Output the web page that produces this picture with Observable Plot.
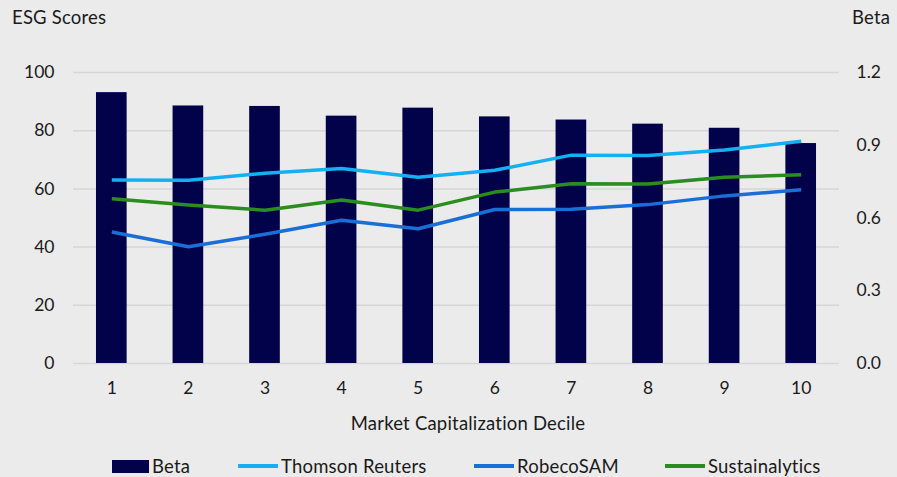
<!DOCTYPE html>
<html>
<head>
<meta charset="utf-8">
<script src="https://cdn.jsdelivr.net/npm/d3@7"></script>
<script src="https://cdn.jsdelivr.net/npm/@observablehq/plot@0.6"></script>
<style>
  html, body { margin: 0; padding: 0; background: #ebebeb; }
  #wrap { position: relative; width: 897px; height: 477px; background: #ebebeb; font-family: Lato, "Open Sans", sans-serif; color: #1a1a1a; overflow: hidden; }
  .lbl { position: absolute; font-size: 18.5px; white-space: nowrap; line-height: 1; letter-spacing: 0.2px; }
  .leg { position: absolute; top: 457px; font-size: 18.5px; line-height: 18px; display: flex; align-items: center; white-space: nowrap; letter-spacing: 0.2px; }
  .sw { display: inline-block; margin-right: 3px; }
</style>
</head>
<body>
<div id="wrap">
  <div id="chart"></div>
  <div class="lbl" style="left:12px; top:8px;">ESG Scores</div>
  <div class="lbl" style="left:852px; top:8px;">Beta</div>
  <div class="lbl" style="left:0; width:936px; text-align:center; top:414px;">Market Capitalization Decile</div>
  <div id="legend"></div>
</div>
<script>
const deciles = ["1","2","3","4","5","6","7","8","9","10"];
const beta = [1.117, 1.062, 1.060, 1.020, 1.053, 1.017, 1.004, 0.987, 0.970, 0.907];
const thomsonReuters = [63.1, 63.0, 65.4, 67.0, 64.0, 66.4, 71.6, 71.5, 73.4, 76.4];
const robecoSAM = [45.2, 40.1, 44.4, 49.2, 46.3, 52.9, 53.0, 54.6, 57.6, 59.7];
const sustainalytics = [56.6, 54.5, 52.7, 56.2, 52.7, 58.9, 61.8, 61.7, 64.0, 64.9];
const leftTicks = [0, 20, 40, 60, 80, 100];
const rightTicks = [0.0, 0.3, 0.6, 0.9, 1.2];
const betaMax = 1.2, scoreMax = 100;

const seriesNames = ["Thomson Reuters", "RobecoSAM", "Sustainalytics"];
const seriesValues = [thomsonReuters, robecoSAM, sustainalytics];
const colors = {"Beta": "#02024a", "Thomson Reuters": "#14b0f2", "RobecoSAM": "#1a6fd6", "Sustainalytics": "#2b8c1f"};

const bars = deciles.map((d, i) => ({decile: d, beta: beta[i]}));
const lines = seriesNames.flatMap((s, k) => deciles.map((d, i) => ({series: s, decile: d, value: seriesValues[k][i]})));
const toLeft = b => b * scoreMax / betaMax;

const chart = Plot.plot({
  width: 897,
  height: 477,
  marginLeft: 73,
  marginRight: 58,
  marginTop: 72,
  marginBottom: 114,
  style: {background: "transparent", fontFamily: "Lato, 'Open Sans', sans-serif", fontSize: "17.5px", color: "#1a1a1a"},
  x: {domain: deciles, paddingInner: 0.6, paddingOuter: 0.3, round: false, label: null},
  y: {domain: [0, 100], label: null},
  color: {domain: Object.keys(colors), range: Object.values(colors)},
  marks: [
    Plot.ruleY(leftTicks, {stroke: "#d6d6d6", strokeWidth: 1.5}),
    Plot.barY(bars, {x: "decile", y: d => toLeft(d.beta), fill: colors["Beta"]}),
    Plot.lineY(lines, {x: "decile", y: "value", z: "series", stroke: d => colors[d.series], strokeWidth: 3.5, strokeLinejoin: "round", strokeLinecap: "butt"}),
    Plot.axisX({tickSize: 0, tickPadding: 18, fontSize: 17.5, label: null}),
    Plot.axisY(leftTicks, {anchor: "left", tickSize: 0, tickPadding: 19, fontSize: 17.5, label: null}),
    Plot.axisY(rightTicks.map(toLeft), {anchor: "right", tickSize: 0, tickPadding: 17, fontSize: 17.5, label: null,
      tickFormat: (v) => (v * betaMax / scoreMax).toFixed(1)})
  ]
});
document.getElementById("chart").appendChild(chart);

// legend
const legendItems = [
  {name: "Beta", type: "rect", left: 112},
  {name: "Thomson Reuters", type: "line", left: 238},
  {name: "RobecoSAM", type: "line", left: 474},
  {name: "Sustainalytics", type: "line", left: 665}
];
const legend = document.getElementById("legend");
for (const item of legendItems) {
  const el = document.createElement("div");
  el.className = "leg";
  el.style.left = item.left + "px";
  const sw = document.createElement("span");
  sw.className = "sw";
  if (item.type === "rect") {
    sw.style.width = "37px"; sw.style.height = "13px";
  } else {
    sw.style.width = "40px"; sw.style.height = "4px";
  }
  sw.style.background = colors[item.name];
  el.appendChild(sw);
  el.appendChild(document.createTextNode(item.name));
  legend.appendChild(el);
}
</script>
</body>
</html>
